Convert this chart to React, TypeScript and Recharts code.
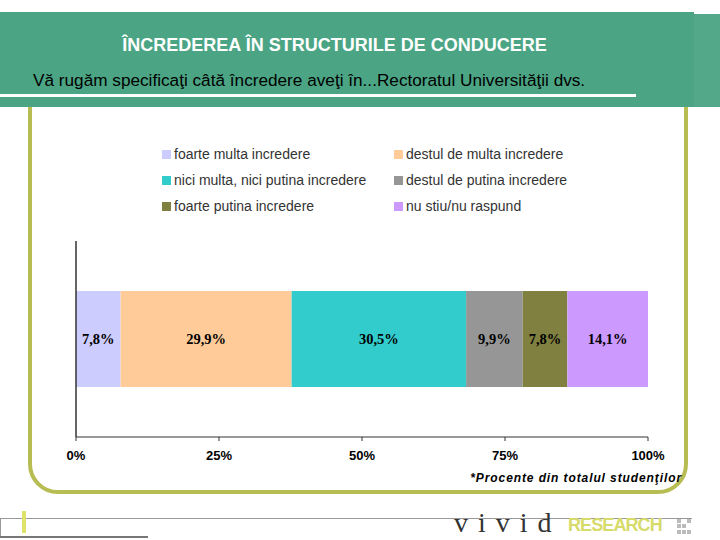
import { BarChart, Bar, XAxis, YAxis, LabelList } from "recharts";

const categories = ["Rectoratul Universităţii"];
const seriesNames = [
  "foarte multa incredere",
  "destul de multa incredere",
  "nici multa, nici putina incredere",
  "destul de putina incredere",
  "foarte putina incredere",
  "nu stiu/nu raspund",
];
const seriesValues = [7.8, 29.9, 30.5, 9.9, 7.8, 14.1];
const seriesColors = ["#ccccff", "#ffcc99", "#33cccc", "#969696", "#808040", "#cc99ff"];
const xTicks = [0, 25, 50, 75, 100];

const data = categories.map((name) => {
  const row: Record<string, string | number> = { name };
  seriesValues.forEach((v, i) => {
    row[`s${i}`] = v;
  });
  return row;
});

const fmtPct = (v: number) => `${v.toFixed(1).replace(".", ",")}%`;

export default function App() {
  return (
    <div
      style={{
        position: "absolute",
        left: 0,
        top: 0,
        width: 720,
        height: 540,
        background: "#fff",
        overflow: "hidden",
        fontFamily: "'Liberation Sans', Arial, sans-serif",
      }}
    >
      {/* olive rounded frame */}
      <div
        style={{
          position: "absolute",
          left: 28,
          top: 50,
          width: 652,
          height: 436,
          border: "4px solid #b7bd52",
          borderRadius: 30,
        }}
      />

      {/* header band */}
      <div style={{ position: "absolute", left: 0, top: 12, width: 694, height: 95, background: "#4ba584" }} />
      <div style={{ position: "absolute", left: 694, top: 14, width: 26, height: 93, background: "#52a888" }} />
      <div style={{ position: "absolute", left: 0, top: 94, width: 636, height: 3, background: "#fff" }} />
      <div
        style={{
          position: "absolute",
          left: 0,
          width: 669,
          top: 35,
          textAlign: "center",
          color: "#fff",
          fontWeight: "bold",
          fontSize: 18,
        }}
      >
        ÎNCREDEREA ÎN STRUCTURILE DE CONDUCERE
      </div>
      <div style={{ position: "absolute", left: 33, top: 70, color: "#000", fontSize: 17.2 }}>
        Vă rugăm specificaţi câtă încredere aveţi în...Rectoratul Universităţii dvs.
      </div>

      {/* legend, two columns */}
      {seriesNames.map((n, i) => {
        const col = i % 2;
        const row = Math.floor(i / 2);
        return (
          <div
            key={n}
            style={{
              position: "absolute",
              left: col === 0 ? 162 : 394,
              top: 146 + row * 26,
              display: "flex",
              alignItems: "center",
              fontSize: 14,
              color: "#333",
              whiteSpace: "nowrap",
            }}
          >
            <span style={{ width: 9, height: 9, background: seriesColors[i], marginRight: 3, display: "inline-block" }} />
            {n}
          </div>
        );
      })}

      {/* chart */}
      <div style={{ position: "absolute", left: 30, top: 130 }}>
        <BarChart
          width={660}
          height={345}
          data={data}
          layout="vertical"
          margin={{ top: 111, right: 42, bottom: 8, left: 45 }}
        >
          <XAxis
            type="number"
            domain={[0, 100]}
            ticks={xTicks}
            interval={0}
            tickFormatter={(v: number) => `${v}%`}
            axisLine={{ stroke: "#333" }}
            tickLine={{ stroke: "#333" }}
            tickSize={4}
            tickMargin={10}
            height={30}
            tick={{ fill: "#000", fontSize: 13, fontWeight: "bold", fontFamily: "'Liberation Sans', Arial" }}
          />
          <YAxis
            type="category"
            dataKey="name"
            width={1}
            tick={false}
            tickLine={false}
            axisLine={{ stroke: "#333", strokeWidth: 1.5 }}
          />
          {seriesNames.map((n, i) => (
            <Bar key={n} dataKey={`s${i}`} name={n} stackId="a" fill={seriesColors[i]} barSize={96} isAnimationActive={false}>
              <LabelList
                dataKey={`s${i}`}
                position="center"
                formatter={(v: number) => fmtPct(v)}
                style={{ fill: "#000", fontSize: 14.5, fontWeight: "bold", fontFamily: "'Liberation Serif', 'Times New Roman', serif" }}
              />
            </Bar>
          ))}
        </BarChart>
      </div>

      <div
        style={{
          position: "absolute",
          right: 38,
          top: 471,
          fontSize: 12,
          fontWeight: "bold",
          fontStyle: "italic",
          letterSpacing: 0.9,
          color: "#000",
        }}
      >
        *Procente din totalul studenţilor
      </div>

      {/* footer */}
      <div style={{ position: "absolute", left: 0, top: 518, width: 692, height: 1, background: "#999" }} />
      <div style={{ position: "absolute", left: 0, top: 518, width: 1, height: 19, background: "#999" }} />
      <div style={{ position: "absolute", left: 22, top: 511, width: 4, height: 22, background: "#dfe36a" }} />
      <div style={{ position: "absolute", left: 0, top: 536, width: 148, height: 2, background: "#777" }} />
      <div
        style={{
          position: "absolute",
          left: 454,
          top: 507,
          fontFamily: "'Liberation Serif', serif",
          fontSize: 28,
          letterSpacing: 10,
          color: "#333",
        }}
      >
        vivid
      </div>
      <div
        style={{
          position: "absolute",
          left: 568,
          top: 515,
          fontSize: 18,
          fontWeight: 900,
          color: "#d6db6a",
          letterSpacing: -0.9,
        }}
      >
        RESEARCH
      </div>
      <div style={{ position: "absolute", left: 677, top: 519, width: 15, height: 15, display: "grid", gridTemplateColumns: "repeat(3, 4px)", gap: 1 }}>
        {[1, 0, 1, 1, 1, 0, 1, 1, 1].map((on, k) => (
          <span key={k} style={{ width: 4, height: 4, background: on ? "#bbb" : "transparent" }} />
        ))}
      </div>
    </div>
  );
}
